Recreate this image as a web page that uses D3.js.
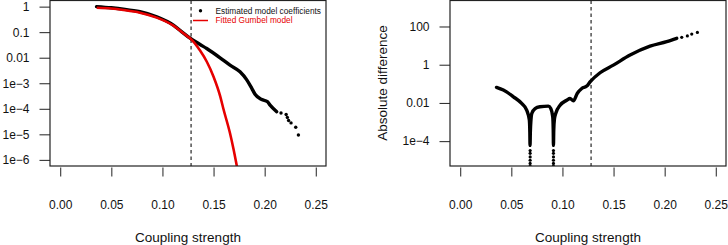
<!DOCTYPE html>
<html>
<head>
<meta charset="utf-8">
<script src="https://cdn.jsdelivr.net/npm/d3@7"></script>
<style>
  body { margin: 0; background: #fff; }
  svg { display: block; font-family: "Liberation Sans", Arial, sans-serif; }
</style>
</head>
<body>
<div id="chart"></div>
<script>
// estimated model coefficients (left panel), dense part and sparse tail
const coefX = [0.0355, 0.05, 0.0617, 0.078, 0.0944, 0.1107, 0.1205, 0.127, 0.1368, 0.1433, 0.158, 0.1661, 0.1759, 0.1825, 0.1874, 0.1906, 0.1971, 0.2027, 0.2053, 0.2118];
const coefY = [1.0, 0.9, 0.8, 0.63, 0.40, 0.19, 0.092, 0.058, 0.033, 0.023, 0.0089, 0.0051, 0.0028, 0.00135, 0.00063, 0.00037, 0.00023, 0.00019, 0.00014, 0.000077];
const coefTailX = [0.216, 0.221, 0.2222, 0.2234, 0.2258, 0.2304, 0.233];
const coefTailY = [6.8e-5, 6.0e-5, 4.6e-5, 3.5e-5, 2.8e-5, 1.9e-5, 9.4e-6];

// fitted Gumbel model
const gumbelX = [0.0357, 0.05, 0.0617, 0.078, 0.0944, 0.1107, 0.1205, 0.1287, 0.1368, 0.1433, 0.150, 0.1564, 0.1596, 0.1661, 0.1694, 0.1727, 0.1745];
const gumbelY = [0.9, 0.84, 0.74, 0.58, 0.37, 0.18, 0.09, 0.05, 0.019, 0.0071, 0.0018, 3.2e-4, 1e-4, 1.1e-5, 2.8e-6, 6e-7, 2.5e-7];

// absolute difference (right panel)
const diffX = [0.0355, 0.0422, 0.052, 0.0601, 0.065, 0.0676, 0.0681, 0.0683, 0.0686, 0.0692, 0.070, 0.0732, 0.078, 0.0862, 0.0886, 0.0905, 0.0910, 0.0912, 0.0915, 0.0922, 0.0934, 0.0977, 0.1042, 0.1074, 0.1107, 0.1146, 0.1189, 0.1238, 0.127, 0.1368, 0.1498, 0.1662, 0.1857, 0.202, 0.2118];
const diffY = [0.065, 0.047, 0.021, 0.0094, 0.0042, 0.0013, 3e-4, 6e-5, 3e-4, 0.0013, 0.0028, 0.0051, 0.0063, 0.0068, 0.0051, 0.0019, 3.7e-4, 6e-5, 3.7e-4, 0.0015, 0.0028, 0.0076, 0.0138, 0.017, 0.0129, 0.032, 0.057, 0.076, 0.126, 0.38, 0.95, 3.2, 9.3, 16, 24];
const diffTailX = [0.2167, 0.2222, 0.2265, 0.232, 0.0684, 0.0684, 0.0684, 0.0684, 0.0684, 0.0684, 0.0912, 0.0912, 0.0912, 0.0912, 0.0912, 0.0912];
const diffTailY = [27, 32, 40, 49, 3.2e-5, 2.3e-5, 1.5e-5, 1e-5, 6.8e-6, 5e-6, 3.2e-5, 2.3e-5, 1.5e-5, 1e-5, 6.8e-6, 5e-6];

const xTicks = [0, 0.05, 0.10, 0.15, 0.20, 0.25];
const leftYTicks = [1, 0.1, 0.01, 1e-3, 1e-4, 1e-5, 1e-6];
const leftYLabels = ['1', '0.1', '0.01', '1e\u22123', '1e\u22124', '1e\u22125', '1e\u22126'];
const rightYTicks = [100, 1, 0.01, 1e-4];
const rightYLabels = ['100', '1', '0.01', '1e\u22124'];
const cutoff = 0.128;
const legendLabels = ['Estimated model coefficients', 'Fitted Gumbel model'];

const width = 728, height = 245;
const red = '#e60000';

const svg = d3.select('#chart').append('svg')
  .attr('width', width)
  .attr('height', height);

function panel(id, left, right, yDomain, yTicks, yLabels) {
  const top = 0.5, bottom = 166;
  const x = d3.scaleLinear().domain([-0.01, 0.26]).range([left, right]);
  const y = d3.scaleLog().domain(yDomain).range([bottom, top]);

  svg.append('clipPath').attr('id', id)
    .append('rect')
    .attr('x', left).attr('y', top)
    .attr('width', right - left).attr('height', bottom - top);

  // y axis (R style, horizontal labels)
  const yAxis = svg.append('g')
    .attr('transform', `translate(${left},0)`)
    .call(d3.axisLeft(y).tickValues(yTicks).tickFormat((d, i) => yLabels[i]).tickSize(10.5).tickPadding(10));
  yAxis.select('.domain').remove();
  yAxis.selectAll('line').attr('stroke', '#222');
  yAxis.selectAll('text').attr('font-size', '12px').attr('fill', '#111')
    .attr('font-family', '"Liberation Sans", Arial, sans-serif');

  // x axis: ticks hang just under the box
  const xAxis = svg.append('g')
    .attr('transform', `translate(0,${bottom + 1.5})`)
    .call(d3.axisBottom(x).tickValues(xTicks).tickFormat(d3.format('.2f')).tickSize(9).tickPadding(24));
  xAxis.select('.domain').remove();
  xAxis.selectAll('line').attr('stroke', '#222');
  xAxis.selectAll('text').attr('font-size', '12px').attr('fill', '#111')
    .attr('font-family', '"Liberation Sans", Arial, sans-serif');

  svg.append('text')
    .attr('x', (left + right) / 2)
    .attr('y', 241.5)
    .attr('text-anchor', 'middle')
    .attr('font-size', '13.5px')
    .attr('fill', '#111')
    .text('Coupling strength');

  svg.append('line')
    .attr('x1', x(cutoff)).attr('x2', x(cutoff))
    .attr('y1', top).attr('y2', bottom)
    .attr('stroke', '#111')
    .attr('stroke-width', 1.1)
    .attr('stroke-dasharray', '3.5,3');

  const g = svg.append('g').attr('clip-path', `url(#${id})`);

  svg.append('rect')
    .attr('x', left).attr('y', top)
    .attr('width', right - left).attr('height', bottom - top)
    .attr('fill', 'none')
    .attr('stroke', '#222')
    .attr('stroke-width', 1.2);

  return { x, y, g };
}

// left panel
const L = panel('clipL', 50, 326, [Math.pow(10, -6.24), Math.pow(10, 0.24)], leftYTicks, leftYLabels);

const lineL = d3.line()
  .x(d => L.x(d[0]))
  .y(d => L.y(d[1]))
  .curve(d3.curveMonotoneX);

L.g.append('path')
  .datum(d3.zip(coefX, coefY))
  .attr('d', lineL)
  .attr('fill', 'none')
  .attr('stroke', '#000')
  .attr('stroke-width', 3.4)
  .attr('stroke-linecap', 'round');

L.g.selectAll('.tail')
  .data(d3.zip(coefTailX, coefTailY))
  .join('circle')
  .attr('cx', d => L.x(d[0]))
  .attr('cy', d => L.y(d[1]))
  .attr('r', 1.7)
  .attr('fill', '#000');

L.g.append('path')
  .datum(d3.zip(gumbelX, gumbelY))
  .attr('d', lineL)
  .attr('fill', 'none')
  .attr('stroke', red)
  .attr('stroke-width', 2.6);

// legend
svg.append('circle').attr('cx', 200.5).attr('cy', 10.7).attr('r', 1.7).attr('fill', '#000');
svg.append('line').attr('x1', 193).attr('x2', 208).attr('y1', 20.5).attr('y2', 20.5)
  .attr('stroke', red).attr('stroke-width', 1.5);
svg.selectAll('.legend')
  .data(legendLabels)
  .join('text')
  .attr('x', 215.5)
  .attr('y', (d, i) => 10.7 + i * 9.8)
  .attr('dy', '0.35em')
  .attr('font-size', '8.3px')
  .attr('fill', (d, i) => i ? red : '#111')
  .text(d => d);

// right panel
const R = panel('clipR', 450, 726, [Math.pow(10, -5.30), Math.pow(10, 3.36)], rightYTicks, rightYLabels);

const lineR = d3.line()
  .x(d => R.x(d[0]))
  .y(d => R.y(d[1]))
  .curve(d3.curveMonotoneX);

R.g.append('path')
  .datum(d3.zip(diffX, diffY))
  .attr('d', lineR)
  .attr('fill', 'none')
  .attr('stroke', '#000')
  .attr('stroke-width', 3.4)
  .attr('stroke-linecap', 'round')
  .attr('stroke-linejoin', 'round');

R.g.selectAll('.tail')
  .data(d3.zip(diffTailX, diffTailY))
  .join('circle')
  .attr('cx', d => R.x(d[0]))
  .attr('cy', d => R.y(d[1]))
  .attr('r', 1.6)
  .attr('fill', '#000');

svg.append('text')
  .attr('transform', 'translate(387,83) rotate(-90)')
  .attr('text-anchor', 'middle')
  .attr('font-size', '13.5px')
  .attr('fill', '#111')
  .text('Absolute difference');
</script>
</body>
</html>
